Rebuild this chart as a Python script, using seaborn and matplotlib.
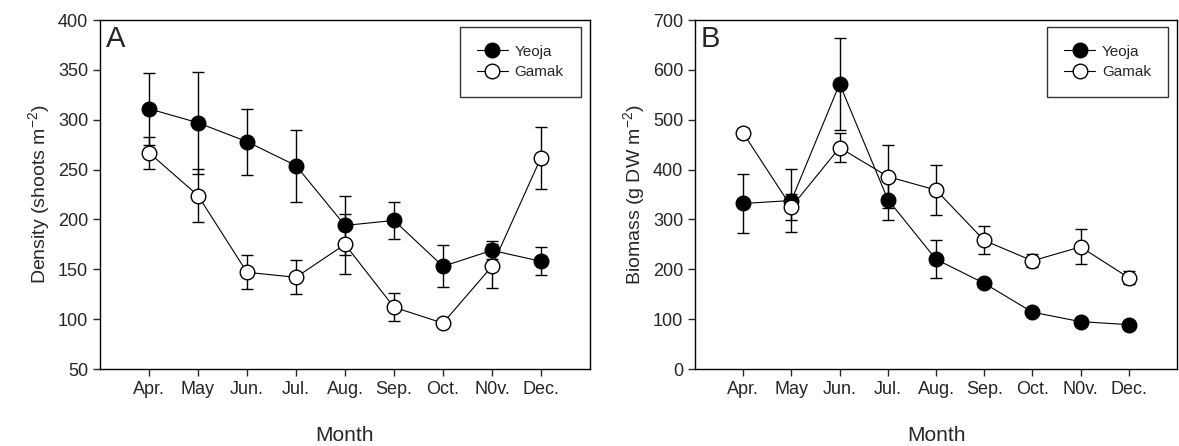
"""
Monthly shoot density and biomass at two sites (Yeoja, Gamak).
"""
import pandas as pd
import numpy as np
import matplotlib.pyplot as plt
import seaborn as sns
from matplotlib.lines import Line2D

sns.set_style("ticks")
plt.rcParams.update({
    "font.family": ["Liberation Sans", "DejaVu Sans"],
    "mathtext.fontset": "custom",
    "mathtext.rm": "Liberation Sans",
    "mathtext.default": "regular",
})

MONTHS = ["Apr.", "May", "Jun.", "Jul.", "Aug.", "Sep.", "Oct.", "N0v.", "Dec."]

# Panel A: density (shoots m-2)
density_yeoja = [311, 297, 278, 254, 194, 199, 153, 169, 158]
density_yeoja_err = [36, 51, 33, 36, 30, 19, 21, 9, 14]
density_gamak = [267, 224, 147, 142, 175, 112, 96, 153, 262]
density_gamak_err = [16, 27, 17, 17, 30, 14, 3, 22, 31]

# Panel B: biomass (g DW m-2)
biomass_yeoja = [332, 338, 572, 340, 220, 172, 114, 95, 89]
biomass_yeoja_err = [60, 63, 92, 42, 38, 5, 5, 5, 5]
biomass_gamak = [473, 325, 444, 386, 359, 258, 217, 245, 183]
biomass_gamak_err = [10, 27, 29, 64, 50, 28, 13, 35, 13]


def draw_panel(ax, yeoja, yeoja_err, gamak, gamak_err, letter, ylabel, ylim, yticks):
    x = np.arange(len(MONTHS))
    df = pd.DataFrame({"x": np.concatenate([x, x]),
                       "value": yeoja + gamak,
                       "err": yeoja_err + gamak_err,
                       "site": ["Yeoja"] * len(x) + ["Gamak"] * len(x)})

    for site in ["Yeoja", "Gamak"]:
        sub = df[df["site"] == site]
        ax.errorbar(sub["x"], sub["value"], yerr=sub["err"], fmt="none",
                    ecolor="black", elinewidth=1, capsize=4, capthick=1, zorder=1)
    for site, face in [("Yeoja", "black"), ("Gamak", "white")]:
        sub = df[df["site"] == site]
        sns.lineplot(data=sub, x="x", y="value", ax=ax, color="black", lw=0.8,
                     marker="o", markersize=10.5, markerfacecolor=face,
                     markeredgecolor="black", markeredgewidth=1, zorder=2)

    ax.set_xlim(-1, 9)
    ax.set_ylim(*ylim)
    ax.set_xticks(x)
    ax.set_xticklabels(MONTHS)
    ax.set_yticks(yticks)
    ax.tick_params(direction="out", length=5, width=1, labelsize=13,
                   top=False, right=False)
    for s in ax.spines.values():
        s.set_visible(True)
        s.set_linewidth(1)
        s.set_color("black")
    ax.set_xlabel("Month", fontsize=15, labelpad=20)
    ax.set_ylabel(ylabel, fontsize=14)
    ax.text(0.012, 0.985, letter, transform=ax.transAxes, fontsize=21,
            ha="left", va="top")

    handles = [Line2D([], [], color="black", lw=0.8, marker="o", markersize=10.5,
                      markerfacecolor=f, markeredgecolor="black")
               for f in ("black", "white")]
    leg = ax.legend(handles, ["Yeoja", "Gamak"], loc="upper right",
                    bbox_to_anchor=(0.982, 0.98), borderaxespad=0,
                    fontsize=11, frameon=True, fancybox=False,
                    edgecolor="black", handlelength=2.0, borderpad=1.15,
                    labelspacing=0.45, handletextpad=0.45)
    leg.get_frame().set_linewidth(1)


fig = plt.figure(figsize=(11.79, 4.46), dpi=100)
ax_a = fig.add_axes([0.0848, 0.1726, 0.4156, 0.7825])
ax_b = fig.add_axes([0.5895, 0.1726, 0.4088, 0.7825])

draw_panel(ax_a, density_yeoja, density_yeoja_err, density_gamak, density_gamak_err,
           "A", "Density (shoots m$^{-2}$)", (50, 400), np.arange(50, 401, 50))
draw_panel(ax_b, biomass_yeoja, biomass_yeoja_err, biomass_gamak, biomass_gamak_err,
           "B", "Biomass (g DW m$^{-2}$)", (0, 700), np.arange(0, 701, 100))

fig.savefig("out.png", dpi=100)
